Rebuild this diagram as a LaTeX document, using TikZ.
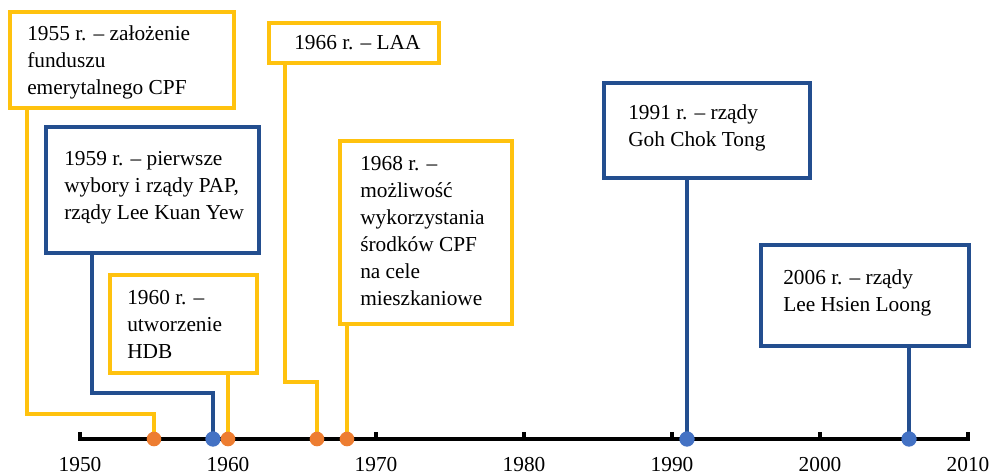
\documentclass[tikz,border=0pt]{standalone}
\usepackage{fontspec}
\setmainfont{Liberation Serif}
\definecolor{yel}{RGB}{255,194,14}
\definecolor{dblue}{RGB}{35,78,143}
\definecolor{dotblue}{RGB}{68,114,196}
\definecolor{orng}{RGB}{237,125,49}
\tikzset{
  ybox/.style={draw=yel, line width=3pt, fill=white, rectangle, inner sep=0pt},
  bbox/.style={draw=dblue, line width=3pt, fill=white, rectangle, inner sep=0pt},
  txt/.style={align=left, inner sep=0pt, anchor=west, font=\fontsize{16}{20.25}\selectfont},
  yline/.style={draw=yel, line width=2.4pt},
  bline/.style={draw=dblue, line width=2.4pt},
  axisline/.style={draw=black, line width=2.4pt},
  odot/.style={circle, fill=orng, minimum size=11pt, inner sep=0pt},
  bdot/.style={circle, fill=dotblue, minimum size=11.5pt, inner sep=0pt},
  yearlbl/.style={font=\fontsize{16}{18}\selectfont, inner sep=0pt},
}
\begin{document}
\begin{tikzpicture}[x=0.75pt,y=-0.75pt]
\useasboundingbox (0,0) rectangle (998,475);
% positions of events on the axis
\coordinate (p1955) at (154,439);
\coordinate (p1959) at (213,439);
\coordinate (p1960) at (228,439);
\coordinate (p1966) at (317,439);
\coordinate (p1968) at (347,439);
\coordinate (p1991) at (687,439);
\coordinate (p2006) at (909,439);
% axis
\draw[axisline] (80,432) -- (80,439) -- (968,439) -- (968,432);
\foreach \yr in {1950,1960,...,2010}{
  \coordinate (tick\yr) at ({80+(\yr-1950)*14.8},439);
  \draw[axisline] (tick\yr) -- ++(0,-7.5);
  \node[yearlbl] (lbl\yr) at ([yshift=-19.5pt]tick\yr) {\yr};
}
% boxes
\node[ybox, minimum width=168pt, minimum height=72pt] (b1955) at (122,60) {};
\node[bbox, minimum width=159.75pt, minimum height=94.5pt] (b1959) at (152.5,190) {};
\node[ybox, minimum width=110.25pt, minimum height=73.5pt] (b1960) at (183.5,324) {};
\node[ybox, minimum width=127.5pt, minimum height=30pt] (b1966) at (354,43) {};
\node[ybox, minimum width=129pt, minimum height=137.25pt] (b1968) at (426,232.5) {};
\node[bbox, minimum width=154.5pt, minimum height=71.25pt] (b1991) at (707,130.5) {};
\node[bbox, minimum width=156pt, minimum height=75.75pt] (b2006) at (865,295.5) {};
% texts
\node[txt] (t1955) at (27,62) {1955 r. – założenie\\funduszu\\emerytalnego CPF};
\node[txt] (t1959) at (64,188) {1959 r. – pierwsze\\wybory i rządy PAP,\\rządy Lee Kuan Yew};
\node[txt] (t1960) at (127,324) {1960 r. –\\utworzenie\\HDB};
\node[txt] (t1966) at (294,43) {1966 r. – LAA};
\node[txt] (t1968) at (360,231) {1968 r. –\\możliwość\\wykorzystania\\środków CPF\\na cele\\mieszkaniowe};
\node[txt] (t1991) at (628,128) {1991 r. – rządy\\Goh Chok Tong};
\node[txt] (t2006) at (783,293) {2006 r. – rządy\\Lee Hsien Loong};
% connectors
\coordinate (k1955) at (27,414);
\coordinate (k1959) at (92,393);
\coordinate (k1966) at (285,382);
\draw[yline] (k1955 |- b1955.south) -- (k1955) -| (p1955);
\draw[bline] (k1959 |- b1959.south) -- (k1959) -| (p1959);
\draw[yline] (p1960 |- b1960.south) -- (p1960);
\draw[yline] (k1966 |- b1966.south) -- (k1966) -| (p1966);
\draw[yline] (p1968 |- b1968.south) -- (p1968);
\draw[bline] (p1991 |- b1991.south) -- (p1991);
\draw[bline] (p2006 |- b2006.south) -- (p2006);
% dots
\node[odot] (d1955) at (p1955) {};
\node[bdot] (d1959) at (p1959) {};
\node[odot] (d1960) at (p1960) {};
\node[odot] (d1966) at (p1966) {};
\node[odot] (d1968) at (p1968) {};
\node[bdot] (d1991) at (p1991) {};
\node[bdot] (d2006) at (p2006) {};
\end{tikzpicture}
\end{document}
